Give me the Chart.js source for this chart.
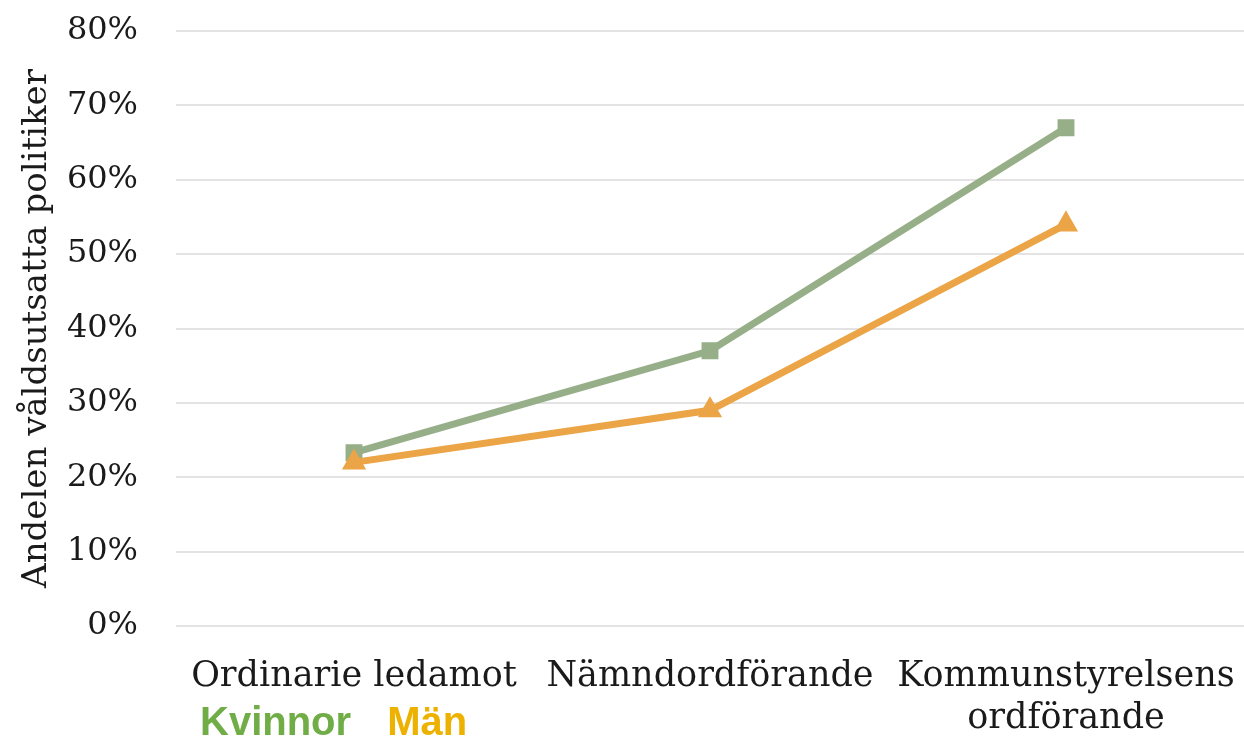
<!DOCTYPE html>
<html>
<head>
<meta charset="utf-8">
<script src="https://cdn.jsdelivr.net/npm/chart.js@4.4.0/dist/chart.umd.min.js"></script>
<style>
  html, body { margin: 0; background: #fff; overflow: hidden; }
  .wrap { position: relative; width: 1244px; height: 737px; overflow: hidden; }
  canvas { display: block; }
  .legend { position: absolute; top: 701px; left: 200px; font: bold 40px "Liberation Sans", Arial, sans-serif; line-height: 1; white-space: nowrap; }
  .legend span { margin-right: 36px; }
</style>
</head>
<body>
<div class="wrap">
  <canvas id="myChart"></canvas>
  <div class="legend" id="customLegend"></div>
</div>
<script>
  const categories = ['Ordinarie ledamot', 'Nämndordförande', ['Kommunstyrelsens', 'ordförande']];
  const kvinnor = [23.3, 37, 67];
  const man = [22, 29, 54];
  const yTicks = [0, 10, 20, 30, 40, 50, 60, 70, 80];

  const serif = '"DejaVu Serif", "Liberation Serif", serif';

  const ctx = document.getElementById('myChart').getContext('2d');
  const chart = new Chart(ctx, {
    type: 'line',
    data: {
      labels: categories,
      datasets: [{
        label: 'Kvinnor',
        data: kvinnor,
        borderColor: '#97AF88',
        backgroundColor: '#97AF88',
        borderWidth: 7,
        pointStyle: 'rect',
        pointRadius: 7,
        order: 2
      }, {
        label: 'Män',
        data: man,
        borderColor: '#EBA446',
        backgroundColor: '#EBA446',
        borderWidth: 7,
        pointStyle: 'triangle',
        pointRadius: 7,
        order: 1
      }]
    },
    options: {
      responsive: true,
      maintainAspectRatio: false,
      animation: false,
      layout: {
        autoPadding: false,
        padding: { left: 0, right: 0, top: 31, bottom: 0 }
      },
      scales: {
        x: {
          offset: true,
          grid: { display: false, drawTicks: false },
          border: { display: false },
          ticks: {
            padding: 30,
            maxRotation: 0,
            autoSkip: false,
            color: '#1a1a1a',
            font: { family: serif, size: 35 }
          },
          afterFit: scale => {
            scale.height = 111;
            scale.paddingLeft = 0;
            scale.paddingRight = 0;
          }
        },
        y: {
          min: 0,
          max: 80,
          afterBuildTicks: scale => { scale.ticks = yTicks.map(v => ({ value: v })); },
          grid: { color: '#e3e3e3', lineWidth: 2, drawTicks: false },
          border: { display: false },
          ticks: {
            padding: 38,
            color: '#1a1a1a',
            font: { family: serif, size: 32 },
            callback: v => v + '%'
          },
          title: {
            display: true,
            text: 'Andelen våldsutsatta politiker',
            color: '#1a1a1a',
            font: { family: serif, size: 34 },
            padding: { top: 17, bottom: 0 }
          },
          afterFit: scale => {
            scale.width = 176;
            scale.paddingTop = 0;
            scale.paddingBottom = 0;
          }
        }
      },
      plugins: {
        legend: { display: false },
        tooltip: { enabled: false }
      }
    }
  });

  // legend as coloured words under the axis
  const legendColors = ['#70AD47', '#EDB200'];
  const legendContainer = document.getElementById('customLegend');
  chart.data.datasets.forEach((ds, i) => {
    const item = document.createElement('span');
    item.style.color = legendColors[i];
    item.textContent = ds.label;
    legendContainer.appendChild(item);
  });
</script>
</body>
</html>
